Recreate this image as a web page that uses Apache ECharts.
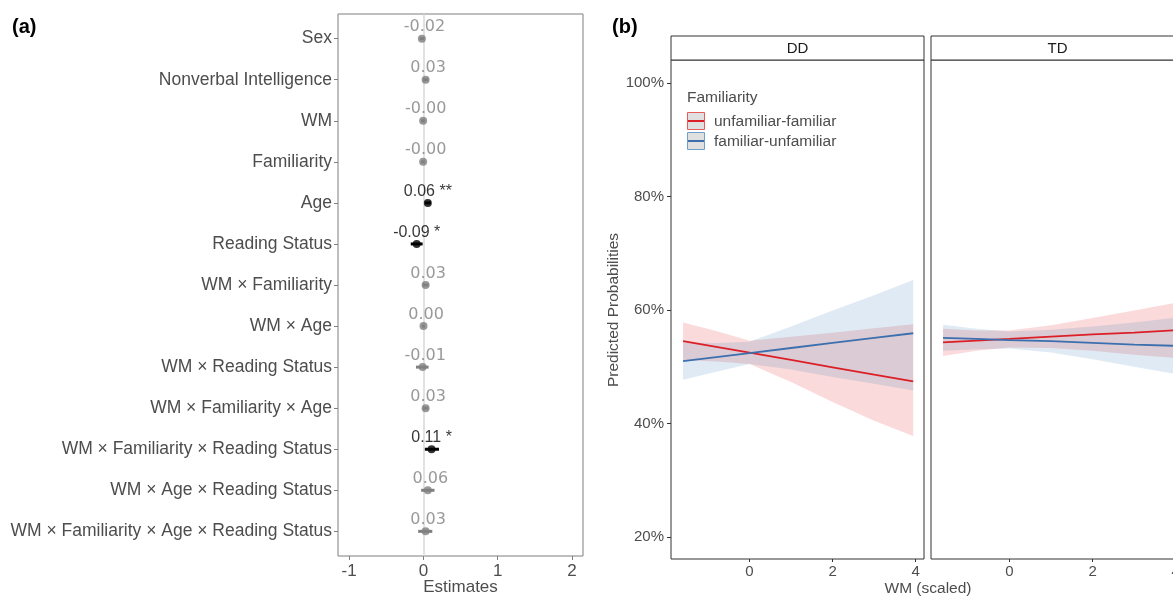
<!DOCTYPE html>
<html><head><meta charset="utf-8">
<script src="https://cdn.jsdelivr.net/npm/echarts@6/dist/echarts.min.js"></script>
<style>html,body{margin:0;padding:0;background:#fff}#c{width:1173px;height:596px}</style>
</head><body><div id="c"></div>
<script>
// ---- Panel (a): model estimates ----
const terms = ['Sex', 'Nonverbal Intelligence', 'WM', 'Familiarity', 'Age', 'Reading Status',
  'WM × Familiarity', 'WM × Age', 'WM × Reading Status', 'WM × Familiarity × Age',
  'WM × Familiarity × Reading Status', 'WM × Age × Reading Status',
  'WM × Familiarity × Age × Reading Status'];
const estimates = [-0.02, 0.03, -0.003, -0.003, 0.06, -0.09, 0.03, 0.002, -0.01, 0.03, 0.11, 0.06, 0.03];
const ciLow  = [-0.05, -0.005, -0.03, -0.03, 0.02, -0.17, -0.01, -0.02, -0.10, -0.005, 0.02, -0.03, -0.07];
const ciHigh = [0.01, 0.065, 0.02, 0.02, 0.10, -0.01, 0.07, 0.02, 0.07, 0.065, 0.21, 0.15, 0.12];
const stars  = ['', '', '', '', '**', '*', '', '', '', '', '*', '', ''];
const estimateTicks = [-1, 0, 1, 2];

// ---- Panel (b): predicted probabilities (%) ----
const facets = ['DD', 'TD'];
const familiarity = ['unfamiliar-familiar', 'familiar-unfamiliar'];
const wmValues = [-1.6, -0.8, 0, 1, 2, 3, 3.94];
const ddUnfFit  = [54.5, 53.5, 52.5, 51.2, 49.9, 48.6, 47.4];
const ddUnfLow  = [51.2, 50.9, 50.5, 47.3, 43.8, 40.5, 37.8];
const ddUnfHigh = [57.8, 56.3, 54.6, 55.3, 56.0, 56.8, 57.5];
const ddFamFit  = [51.0, 51.7, 52.4, 53.3, 54.2, 55.1, 55.9];
const ddFamLow  = [47.7, 49.1, 50.5, 49.5, 48.2, 47.0, 45.8];
const ddFamHigh = [54.3, 54.2, 54.4, 57.1, 59.9, 62.6, 65.3];
const tdUnfFit  = [54.3, 54.6, 54.9, 55.3, 55.7, 56.0, 56.4];
const tdUnfLow  = [51.9, 52.8, 53.4, 53.3, 52.8, 52.1, 51.6];
const tdUnfHigh = [56.7, 56.4, 56.4, 57.3, 58.6, 59.9, 61.2];
const tdFamFit  = [55.1, 54.9, 54.7, 54.5, 54.2, 53.9, 53.7];
const tdFamLow  = [52.8, 53.1, 53.2, 52.5, 51.3, 50.0, 48.8];
const tdFamHigh = [57.4, 56.7, 56.2, 56.5, 57.1, 57.8, 58.6];
const wmTicks = [0, 2, 4];
const probTicks = [20, 40, 60, 80, 100];

const FONT = '"Liberation Sans", Arial, Helvetica, sans-serif';
const TXT = '#4d4d4d';
const RED = '#e41a1c', BLUE = '#377eb8';
const RED_LINE = '#dc1f26', BLUE_LINE = '#3c6fae';

const sig = stars.map(s => s.length > 0);
const pcol = i => sig[i] ? '#000000' : '#808080';

const series = [];
// zero reference line
series.push({type: 'line', xAxisIndex: 0, yAxisIndex: 0, data: [], silent: true, z: 1,
  markLine: {silent: true, z: 1, symbol: 'none', label: {show: false}, animation: false,
    lineStyle: {color: '#d9d9d9', width: 1.5, type: 'solid'}, data: [{xAxis: 0}]}});
// error bars
series.push({type: 'custom', xAxisIndex: 0, yAxisIndex: 0, z: 3, silent: true,
  data: terms.map((t, i) => [ciLow[i], ciHigh[i], i + 1]),
  encode: {x: [0, 1], y: 2},
  renderItem: (params, api) => {
    const a = api.coord([api.value(0), api.value(2)]);
    const b = api.coord([api.value(1), api.value(2)]);
    return {type: 'line', shape: {x1: a[0], y1: a[1], x2: b[0], y2: b[1]},
      style: {stroke: pcol(params.dataIndex), lineWidth: 3}};
  }});
// points + labels
series.push({type: 'scatter', xAxisIndex: 0, yAxisIndex: 0, symbolSize: 8, z: 4, silent: true,
  data: terms.map((t, i) => ({
    value: [estimates[i], i + 1],
    itemStyle: {color: pcol(i)},
    label: {show: true, position: 'top', distance: -0.5, offset: [sig[i] ? 0 : 2.5, 0],
      formatter: estimates[i].toFixed(2) + (stars[i] ? ' ' + stars[i] : ''),
      color: pcol(i), fontSize: 16, fontFamily: sig[i] ? FONT : '"DejaVu Sans", sans-serif'}
  }))});

function band(axis, lo, hi, color) {
  return {type: 'custom', xAxisIndex: axis, yAxisIndex: axis, silent: true, z: 2,
    data: [[wmValues[0], lo[0]]],
    renderItem: (params, api) => {
      const pts = [];
      wmValues.forEach((x, i) => pts.push(api.coord([x, hi[i]])));
      for (let i = wmValues.length - 1; i >= 0; i--) pts.push(api.coord([wmValues[i], lo[i]]));
      return {type: 'polygon', shape: {points: pts}, style: {fill: color, opacity: 0.16}};
    }};
}
function fitLine(axis, name, fit, color) {
  return {type: 'line', name: name, xAxisIndex: axis, yAxisIndex: axis, silent: true, z: 3,
    data: wmValues.map((x, i) => [x, fit[i]]), showSymbol: false, symbol: 'none',
    lineStyle: {color: color, width: 1.8}, itemStyle: {color: color}};
}
series.push(band(1, ddUnfLow, ddUnfHigh, RED), band(1, ddFamLow, ddFamHigh, BLUE));
series.push(band(2, tdUnfLow, tdUnfHigh, RED), band(2, tdFamLow, tdFamHigh, BLUE));
series.push(fitLine(1, familiarity[0], ddUnfFit, RED_LINE), fitLine(1, familiarity[1], ddFamFit, BLUE_LINE));
series.push(fitLine(2, familiarity[0], tdUnfFit, RED_LINE), fitLine(2, familiarity[1], tdFamFit, BLUE_LINE));

const gridB = {top: 60, width: 253, height: 499, show: true, borderColor: '#333', borderWidth: 1,
  backgroundColor: 'transparent', containLabel: false, outerBoundsMode: 'none'};
const xB = (g, showLab) => ({gridIndex: g, type: 'value', min: -1.89, max: 4.2,
  axisLine: {show: false, onZero: false}, splitLine: {show: false},
  axisTick: {show: true, customValues: wmTicks, length: 3, lineStyle: {color: '#333'}},
  axisLabel: {show: showLab, customValues: wmTicks, fontSize: 15, color: TXT, margin: 5, fontFamily: FONT}});

const graphics = [
  {type: 'text', x: 12, y: 27, style: {text: '(a)', font: 'bold 20px ' + FONT, fill: '#000', verticalAlign: 'middle'}},
  {type: 'text', x: 612, y: 27, style: {text: '(b)', font: 'bold 20px ' + FONT, fill: '#000', verticalAlign: 'middle'}},
  {type: 'rect', shape: {x: 671, y: 36, width: 253, height: 24}, style: {fill: '#fff', stroke: '#333', lineWidth: 1}},
  {type: 'rect', shape: {x: 931, y: 36, width: 253, height: 24}, style: {fill: '#fff', stroke: '#333', lineWidth: 1}},
  {type: 'text', x: 797.5, y: 49, style: {text: facets[0], fontSize: 15, fontFamily: FONT, fill: '#1a1a1a', align: 'center', verticalAlign: 'middle'}},
  {type: 'text', x: 1057.5, y: 49, style: {text: facets[1], fontSize: 15, fontFamily: FONT, fill: '#1a1a1a', align: 'center', verticalAlign: 'middle'}},
  {type: 'text', x: 614, y: 310, rotation: Math.PI / 2, style: {text: 'Predicted Probabilities', fontSize: 15.5, fontFamily: FONT, fill: TXT, align: 'center', verticalAlign: 'middle'}},
  {type: 'text', x: 928, y: 589, style: {text: 'WM (scaled)', fontSize: 15.5, fontFamily: FONT, fill: TXT, align: 'center', verticalAlign: 'middle'}},
  {type: 'text', x: 687, y: 98, style: {text: 'Familiarity', fontSize: 15.5, fontFamily: FONT, fill: TXT, verticalAlign: 'middle'}},
  {type: 'rect', shape: {x: 687.5, y: 112.5, width: 17, height: 17}, style: {fill: '#e0e0e0', stroke: '#e95c5e', lineWidth: 1}},
  {type: 'line', shape: {x1: 688, y1: 121, x2: 704, y2: 121}, style: {stroke: RED_LINE, lineWidth: 2}},
  {type: 'rect', shape: {x: 687.5, y: 132.5, width: 17, height: 17}, style: {fill: '#e0e0e0', stroke: '#6d9fcc', lineWidth: 1}},
  {type: 'line', shape: {x1: 688, y1: 141, x2: 704, y2: 141}, style: {stroke: BLUE_LINE, lineWidth: 2}},
  {type: 'text', x: 714, y: 122, style: {text: familiarity[0], fontSize: 15.5, fontFamily: FONT, fill: TXT, verticalAlign: 'middle'}},
  {type: 'text', x: 714, y: 142, style: {text: familiarity[1], fontSize: 15.5, fontFamily: FONT, fill: TXT, verticalAlign: 'middle'}}
];

const option = {
  animation: false,
  backgroundColor: '#fff',
  textStyle: {fontFamily: FONT},
  grid: [
    {left: 338, top: 14, width: 245, height: 542, show: true, borderColor: '#7f7f7f', borderWidth: 1,
      backgroundColor: 'transparent', containLabel: false, outerBoundsMode: 'none'},
    Object.assign({left: 671}, gridB),
    Object.assign({left: 931}, gridB)
  ],
  xAxis: [
    {gridIndex: 0, type: 'value', min: -1.15, max: 2.15,
      axisLine: {show: false, onZero: false}, splitLine: {show: false},
      axisTick: {show: true, customValues: estimateTicks, length: 4, lineStyle: {color: '#7f7f7f'}},
      axisLabel: {customValues: estimateTicks, fontSize: 17, color: TXT, margin: 7, fontFamily: FONT},
      name: 'Estimates', nameLocation: 'middle', nameGap: 23, nameMoveOverlap: false,
      nameTextStyle: {fontSize: 17, color: TXT, fontFamily: FONT}},
    xB(1, true), xB(2, true)
  ],
  yAxis: [
    {gridIndex: 0, type: 'value', inverse: true, min: 0.4, max: 13.6,
      axisLine: {show: false, onZero: false}, splitLine: {show: false},
      axisTick: {show: true, customValues: terms.map((t, i) => i + 1), length: 4, lineStyle: {color: '#7f7f7f'}},
      axisLabel: {customValues: terms.map((t, i) => i + 1), formatter: v => terms[Math.round(v) - 1],
        fontSize: 17.5, color: TXT, margin: 6, fontFamily: FONT}},
    {gridIndex: 1, type: 'value', min: 16.12, max: 104.05,
      axisLine: {show: false, onZero: false}, splitLine: {show: false},
      axisTick: {show: true, customValues: probTicks, length: 4, lineStyle: {color: '#333'}},
      axisLabel: {customValues: probTicks, formatter: v => v + '%', fontSize: 15, color: TXT, margin: 7, fontFamily: FONT}},
    {gridIndex: 2, type: 'value', min: 16.12, max: 104.05,
      axisLine: {show: false, onZero: false}, splitLine: {show: false}, axisTick: {show: false}, axisLabel: {show: false}}
  ],
  graphic: graphics,
  series: series
};
const chart = echarts.init(document.getElementById('c'), null, {renderer: 'canvas'});
chart.setOption(option);
</script></body></html>
